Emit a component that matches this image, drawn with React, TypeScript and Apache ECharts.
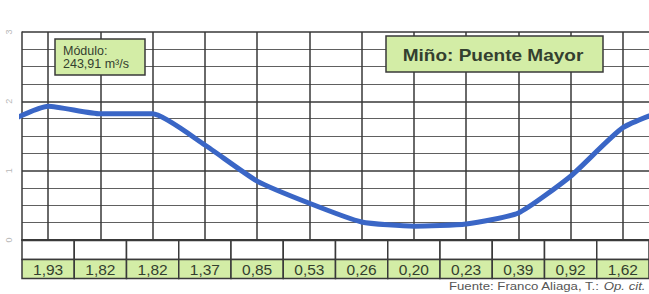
import React, { useEffect, useRef } from "react";
import * as echarts from "echarts";

// Months of the hydrological year (Oct → Sep)
const months = ["Oct", "Nov", "Dic", "Ene", "Feb", "Mar", "Abr", "May", "Jun", "Jul", "Ago", "Sep"];
// Coeficiente de caudal por mes
const values = [1.93, 1.82, 1.82, 1.37, 0.85, 0.53, 0.26, 0.2, 0.23, 0.39, 0.92, 1.62];
const yTicks = [0, 1, 2, 3];
const titleText = "Miño: Puente Mayor";
const moduloLines = ["Módulo:", "243,91 m³/s"];
const sourceText = "Fuente: Franco Aliaga, T.: ";
const sourceItalic = "Op. cit.";

const GREEN = "#d3eda6";
const DARK = "#3a3a3a";
const TEXT = "#33402f";

export default function App() {
  const ref = useRef<HTMLDivElement>(null);
  useEffect(() => {
    if (!ref.current) return;
    const chart = echarts.init(ref.current, undefined, { renderer: "svg" });
    const n = values.length;
    // periodic wrap: previous Sep before Oct, next Oct after Sep (clipped by grid)
    const lineData: number[][] = [
      [-0.5, values[n - 1]],
      ...values.map((v, i) => [i + 0.5, v]),
      [n + 0.5, values[0]],
    ];
    const fmt = (v: number) => v.toFixed(2).replace(".", ",");
    chart.setOption({
      animation: false,
      backgroundColor: "#ffffff",
      grid: [
        { left: 22, top: 32, width: 629, height: 208 },
        { left: 22, top: 240.5, width: 629, height: 38 },
      ],
      xAxis: [
        {
          type: "value",
          gridIndex: 0,
          min: 0,
          max: n,
          axisLine: { show: true, lineStyle: { color: DARK, width: 2 } },
          axisTick: { show: false },
          axisLabel: { show: false },
          splitLine: { show: false },
        },
        {
          type: "category",
          gridIndex: 1,
          data: months,
          boundaryGap: true,
          axisLine: { show: false },
          axisTick: { show: false },
          axisLabel: { show: false },
          splitLine: { show: false },
        },
      ],
      yAxis: [
        {
          type: "value",
          gridIndex: 0,
          min: yTicks[0],
          max: yTicks[yTicks.length - 1],
          interval: 1,
          axisLine: { show: true, lineStyle: { color: DARK, width: 1.5 } },
          axisTick: { show: false },
          axisLabel: {
            show: true,
            rotate: 90,
            color: "#b8b8b8",
            fontSize: 9,
            margin: 9,
            fontFamily: "Liberation Sans",
          },
          splitLine: { show: true, lineStyle: { color: "#383838", width: 1.5 } },
          minorTick: { show: false, splitNumber: 4 },
          minorSplitLine: { show: true, lineStyle: { color: "#606060", width: 1 } },
        },
        {
          type: "value",
          gridIndex: 1,
          min: 0,
          max: 2,
          show: false,
        },
      ],
      graphic: [
        {
          type: "rect",
          shape: { x: 55, y: 39, width: 90, height: 36 },
          style: { fill: GREEN, stroke: DARK, lineWidth: 1.5 },
          z: 10,
        },
        {
          type: "text",
          x: 63,
          y: 51,
          style: {
            text: moduloLines[0],
            fontSize: 12.5,
            fontFamily: "Liberation Sans",
            fill: TEXT,
            align: "left",
            verticalAlign: "middle",
          },
          z: 11,
        },
        {
          type: "text",
          x: 63,
          y: 63.5,
          style: {
            text: moduloLines[1],
            fontSize: 12.5,
            fontFamily: "Liberation Sans",
            fill: TEXT,
            align: "left",
            verticalAlign: "middle",
          },
          z: 11,
        },
        {
          type: "rect",
          shape: { x: 386, y: 36, width: 217, height: 36 },
          style: { fill: GREEN, stroke: DARK, lineWidth: 1.5 },
          z: 10,
        },
        {
          type: "text",
          x: 493,
          y: 55,
          scaleX: 1.12,
          style: {
            text: titleText,
            fontSize: 17,
            fontWeight: "bold",
            fontFamily: "Liberation Sans",
            fill: TEXT,
            align: "center",
            verticalAlign: "middle",
          },
          z: 11,
        },
        {
          type: "text",
          x: 449,
          y: 286,
          scaleX: 1.2,
          style: {
            text: "{n|" + sourceText + "}{i|" + sourceItalic + "}",
            rich: {
              n: { fontSize: 11, fontFamily: "Liberation Sans", fill: "#555" },
              i: { fontSize: 11, fontFamily: "Liberation Sans", fontStyle: "italic", fill: "#555" },
            },
            align: "left",
            verticalAlign: "middle",
          },
          z: 11,
        },
      ],
      series: [
        {
          type: "line",
          xAxisIndex: 0,
          yAxisIndex: 0,
          data: lineData,
          showSymbol: false,
          lineStyle: { width: 0, opacity: 0 },
          silent: true,
          z: 1,
          markLine: {
            silent: true,
            symbol: "none",
            label: { show: false },
            lineStyle: { color: "#383838", width: 1.5, type: "solid" },
            data: months.map((_, i) => ({ xAxis: i + 0.5 })),
          },
        },
        {
          type: "line",
          xAxisIndex: 0,
          yAxisIndex: 0,
          data: lineData,
          smooth: 0.18,
          clip: true,
          showSymbol: false,
          lineStyle: { color: "#3a66c6", width: 5 },
          z: 5,
        },
        {
          type: "custom",
          xAxisIndex: 1,
          yAxisIndex: 1,
          data: values.map((v, i) => [i, v]),
          renderItem: (params: any, api: any) => {
            const i = api.value(0);
            const v = api.value(1);
            const top = api.coord([i, 2]);
            const mid = api.coord([i, 1]);
            const bot = api.coord([i, 0]);
            const w = api.size([1, 0])[0];
            const x0 = top[0] - w / 2;
            return {
              type: "group",
              children: [
                {
                  type: "rect",
                  shape: { x: x0, y: top[1], width: w, height: mid[1] - top[1] },
                  style: { fill: "#ffffff", stroke: DARK, lineWidth: 1.5 },
                },
                {
                  type: "rect",
                  shape: { x: x0, y: mid[1], width: w, height: bot[1] - mid[1] },
                  style: { fill: GREEN, stroke: DARK, lineWidth: 1.5 },
                },
                {
                  type: "text",
                  style: {
                    text: fmt(v),
                    x: top[0],
                    y: (mid[1] + bot[1]) / 2 + 0.5,
                    align: "center",
                    verticalAlign: "middle",
                    fontSize: 15.5,
                    fontFamily: "Liberation Sans",
                    fill: TEXT,
                  },
                },
              ],
            };
          },
        },
      ],
    });
    return () => chart.dispose();
  }, []);
  return (
    <div
      ref={ref}
      style={{ position: "fixed", left: 0, top: 0, width: 649, height: 294, background: "#fff" }}
    />
  );
}
